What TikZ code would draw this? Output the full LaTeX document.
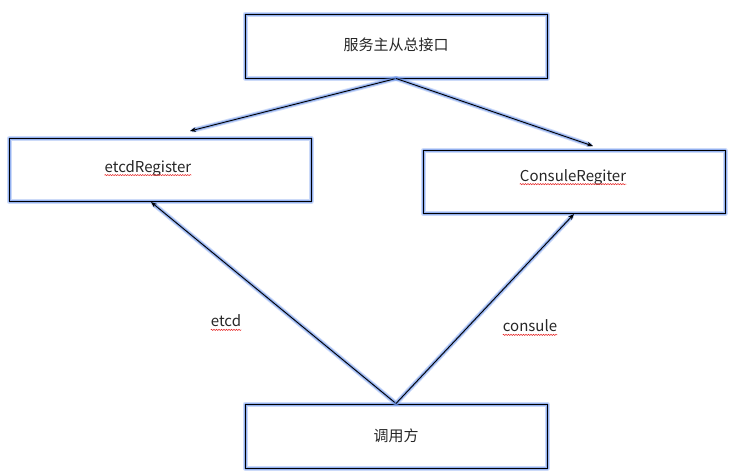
\documentclass[tikz,border=0pt]{standalone}
\usepackage{fontspec}
\setmainfont{Noto Sans CJK SC}
\usetikzlibrary{arrows.meta,decorations.pathmorphing}
\definecolor{halo}{RGB}{110,150,235}
\definecolor{spell}{RGB}{230,40,40}
\tikzset{
  glow/.style={preaction={draw=halo,line width=5pt,opacity=0.35,line cap=round,line join=round},
               preaction={draw=halo,line width=3pt,opacity=0.6,line cap=round,line join=round}},
  box/.style={draw=black,line width=1pt,glow,minimum width=302pt,minimum height=63pt,inner sep=0pt},
  txt/.style={font=\fontsize{15}{18}\selectfont,text=black!85,inner sep=0pt},
  conn/.style={draw=black,line width=0.9pt,glow,-{Stealth[length=6pt,width=4.5pt]}},
  squiggle/.style={draw=spell,line width=0.5pt,decorate,decoration={snake,amplitude=0.6pt,segment length=2.5pt}}
}
\begin{document}
\begin{tikzpicture}[x=1pt,y=-1pt]
\useasboundingbox (0,0) rectangle (730,475);
% boxes
\node[box,minimum height=64pt] (top) at (396,46) {};
\node[box] (left) at (160,170) {};
\node[box] (right) at (574,182) {};
\node[box,minimum height=64pt] (caller) at (396,436) {};
% box texts
\node[txt] (topt) at (396,45) {服务主从总接口};
\node[txt] (leftt) at (148,168) {etcdRegister};
\node[txt] (rightt) at (573,177) {ConsuleRegiter};
\node[txt] (callert) at (396,436) {调用方};
% edge labels
\node[txt] (etcdl) at (226,321) {etcd};
\node[txt] (consl) at (530,326) {consule};
% spell-check underlines
\foreach \n in {leftt,rightt,etcdl,consl}
  \draw[squiggle] ([yshift=-3pt]\n.base west) -- ([yshift=-3pt]\n.base east);
% arrow ends
\coordinate (lt) at (190,131);
\coordinate (rt) at (593,146);
\coordinate (lb) at (151,202);
\coordinate (rb) at (574,214);
% connectors
\draw[conn] (top.south) -- (lt);
\draw[conn] (top.south) -- (rt);
\draw[conn] (caller.north) -- (lb);
\draw[conn] (caller.north) -- (rb);
\end{tikzpicture}
\end{document}
